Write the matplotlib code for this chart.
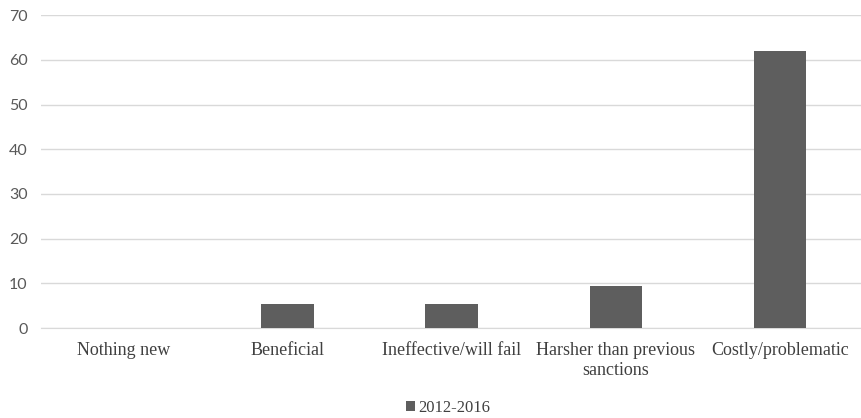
import matplotlib.pyplot as plt
from matplotlib.patches import Patch

categories = ['Nothing new', 'Beneficial', 'Ineffective/will fail',
              'Harsher than previous\nsanctions', 'Costly/problematic']
values = [0, 5.4, 5.4, 9.5, 62]
series_name = '2012-2016'
yticks = [0, 10, 20, 30, 40, 50, 60, 70]

fig = plt.figure(figsize=(8.62, 4.18), dpi=100)
ax = fig.add_axes([0.048, 0.215, 0.952, 0.749])

x = range(len(categories))
ax.bar(x, values, width=0.32, color='#5e5e5e', zorder=3)

ax.set_xlim(-0.5, len(categories) - 0.5)
ax.set_ylim(0, 70)
ax.set_yticks(yticks)
ax.set_yticklabels([str(t) for t in yticks], family='Lato', fontsize=11.5, color='#595959')
ax.set_xticks(list(x))
ax.set_xticklabels(categories, family='Liberation Serif', fontsize=13, color='#404040',
                   linespacing=1.2)
ax.tick_params(axis='y', length=0, pad=10)
ax.tick_params(axis='x', length=0, pad=10)

ax.grid(axis='y', color='#d9d9d9', linewidth=1, zorder=0)
for s in ['top', 'right', 'left']:
    ax.spines[s].set_visible(False)
ax.spines['bottom'].set_color('#d9d9d9')

handle = Patch(facecolor='#5e5e5e', label=series_name)
fig.legend(handles=[handle], loc='lower center', bbox_to_anchor=(0.52, -0.03), frameon=False,
           prop={'family': 'Liberation Serif', 'size': 12}, handlelength=0.55, handleheight=0.55,
           handletextpad=0.2, labelcolor='#404040')

fig.savefig('out.png', dpi=100)
